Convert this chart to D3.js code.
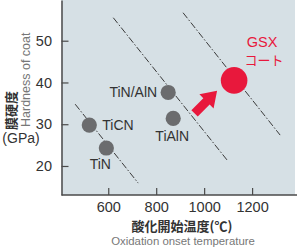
<!DOCTYPE html>
<html>
<head>
<meta charset="utf-8">
<script src="https://cdn.jsdelivr.net/npm/d3@7"></script>
<style>
  body { margin: 0; background: #fff; }
  svg text { font-family: "Liberation Sans", Arial, sans-serif; }
  .jp { font-family: "Noto Sans CJK JP", sans-serif; }
</style>
</head>
<body>
<div id="chart"></div>
<script>
// coatings: oxidation onset temperature (C) vs hardness (GPa)
var names = ["TiCN", "TiN", "TiN/AlN", "TiAlN", "GSX"];
var temps = [521, 592, 850, 871, 1125];
var hardness = [29.8, 24.3, 37.6, 31.4, 40.5];

var xTicks = [600, 800, 1000, 1200];
var yTicks = [20, 30, 40, 50];

// dash-dot guide lines [x1, y1, x2, y2] in data units
var guideX1 = [462, 621, 912];
var guideY1 = [34.8, 55.5, 56.7];
var guideX2 = [725, 1096, 1317];
var guideY2 = [15.9, 21.4, 27.4];

// arrow from / to (data units)
var arrowFrom = [960, 32.6];
var arrowTo = [1054, 38.0];

var width = 300, height = 247;
var svg = d3.select("#chart").append("svg")
    .attr("width", width)
    .attr("height", height);

var x = d3.scaleLinear().domain([405, 1379]).range([61.5, 295]);
var y = d3.scaleLinear().domain([13.05, 59.75]).range([195, 0]);

svg.append("rect")
    .attr("x", x.range()[0]).attr("y", 0)
    .attr("width", x.range()[1] - x.range()[0])
    .attr("height", y.range()[0])
    .attr("fill", "#d6e0e5");

// guide lines
svg.selectAll(".guide")
    .data(guideX1)
  .enter().append("line")
    .attr("x1", function(d, i) { return x(d); })
    .attr("y1", function(d, i) { return y(guideY1[i]); })
    .attr("x2", function(d, i) { return x(guideX2[i]); })
    .attr("y2", function(d, i) { return y(guideY2[i]); })
    .attr("stroke", "#3a3a3a")
    .attr("stroke-width", 1)
    .attr("stroke-dasharray", "7,2,1.5,2");

// axes, ticks inward
var gx = svg.append("g")
    .attr("transform", "translate(0," + y.range()[0] + ")")
    .call(d3.axisBottom(x).tickValues(xTicks).tickFormat(d3.format("d"))
      .tickSize(-7).tickPadding(7).tickSizeOuter(0));
var gy = svg.append("g")
    .attr("transform", "translate(" + x.range()[0] + ",0)")
    .call(d3.axisLeft(y).tickValues(yTicks).tickSize(-7).tickPadding(9.5).tickSizeOuter(0));

[gx, gy].forEach(function(g) {
  g.select(".domain").attr("stroke", "#4a4a4a").attr("stroke-width", 1.5);
  g.selectAll(".tick line").attr("stroke", "#4a4a4a").attr("stroke-width", 1.2);
  g.selectAll(".tick text")
      .attr("fill", "#333")
      .style("font-size", "14.5px")
      .style("font-family", "'Liberation Sans', Arial, sans-serif");
});
gx.select(".domain").attr("d", "M" + x.range()[0] + ",0H297");

// arrow
var ax0 = x(arrowFrom[0]), ay0 = y(arrowFrom[1]);
var ax1 = x(arrowTo[0]), ay1 = y(arrowTo[1]);
var ang = Math.atan2(ay1 - ay0, ax1 - ax0) * 180 / Math.PI;
var len = Math.hypot(ax1 - ax0, ay1 - ay0);
var hl = 15, sw = 4.5, hw = 10;
svg.append("polygon")
    .attr("points", [[0, -sw], [len - hl, -sw], [len - hl, -hw], [len, 0],
                     [len - hl, hw], [len - hl, sw], [0, sw]].join(" "))
    .attr("transform", "translate(" + ax0 + "," + ay0 + ") rotate(" + ang + ")")
    .attr("fill", "#e8183c");

// points
svg.selectAll(".pt")
    .data(names)
  .enter().append("circle")
    .attr("cx", function(d, i) { return x(temps[i]); })
    .attr("cy", function(d, i) { return y(hardness[i]); })
    .attr("r", function(d) { return d == "GSX" ? 13.3 : 7.6; })
    .attr("fill", function(d) { return d == "GSX" ? "#e8183c" : "#6b6c6e"; });

// point labels
var lbl = {
  "TiCN": [13, 4.5, "start"],
  "TiN": [-6, 21, "middle"],
  "TiN/AlN": [-11, 4.5, "end"],
  "TiAlN": [-1, 23, "middle"]
};
svg.selectAll(".lbl")
    .data(names.filter(function(d) { return d != "GSX"; }))
  .enter().append("text")
    .attr("x", function(d) { return x(temps[names.indexOf(d)]) + lbl[d][0]; })
    .attr("y", function(d) { return y(hardness[names.indexOf(d)]) + lbl[d][1]; })
    .attr("text-anchor", function(d) { return lbl[d][2]; })
    .attr("fill", "#333")
    .style("font-size", "14px")
    .text(function(d) { return d; });

var gi = names.indexOf("GSX");
svg.append("text")
    .attr("x", x(temps[gi]) + 28).attr("y", y(hardness[gi]) - 33)
    .attr("text-anchor", "middle")
    .attr("fill", "#e8183c")
    .style("font-size", "14.5px")
    .text("GSX");
svg.append("text")
    .attr("class", "jp")
    .attr("x", x(temps[gi]) + 30).attr("y", y(hardness[gi]) - 15)
    .attr("text-anchor", "middle")
    .attr("fill", "#e8183c")
    .style("font-size", "13px")
    .text("コート");

// axis titles
svg.append("text")
    .attr("class", "jp")
    .attr("x", 182).attr("y", 231)
    .attr("text-anchor", "middle")
    .attr("fill", "#333")
    .style("font-size", "13px")
    .style("font-weight", "bold")
    .text("酸化開始温度(℃)");
svg.append("text")
    .attr("x", 183).attr("y", 245)
    .attr("text-anchor", "middle")
    .attr("fill", "#777")
    .style("font-size", "11.4px")
    .text("Oxidation onset temperature");

svg.append("text")
    .attr("class", "jp")
    .attr("transform", "translate(16,130) rotate(-90)")
    .attr("text-anchor", "start")
    .attr("fill", "#333")
    .style("font-size", "13px")
    .style("font-weight", "bold")
    .text("膜硬度");
svg.append("text")
    .attr("transform", "translate(29.5,127) rotate(-90)")
    .attr("text-anchor", "start")
    .attr("fill", "#777")
    .style("font-size", "12.5px")
    .text("Hardness of coat");
svg.append("text")
    .attr("x", 21).attr("y", 143)
    .attr("text-anchor", "middle")
    .attr("fill", "#333")
    .style("font-size", "14px")
    .text("(GPa)");
</script>
</body>
</html>
